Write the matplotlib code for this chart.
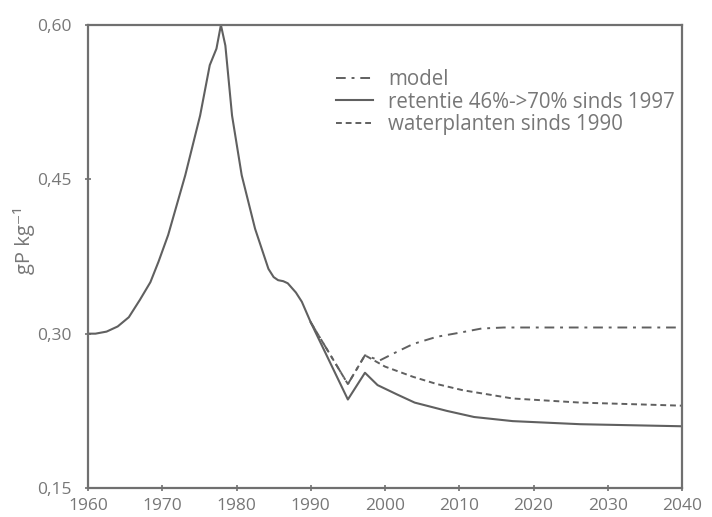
import matplotlib.pyplot as plt
from matplotlib.ticker import FuncFormatter

# values (gP per kg)
jaar_basis = [1960, 1961, 1962.5, 1964, 1965.5, 1967, 1968.4, 1969.5, 1970.8,
              1973.1, 1975.1, 1976.4, 1977.3, 1977.9, 1978.5, 1979.4, 1980.7,
              1982.5, 1984.3, 1985.0, 1985.6, 1986.3, 1986.9, 1988.0, 1988.8,
              1990]
waarde_basis = [0.300, 0.300, 0.302, 0.307, 0.316, 0.333, 0.350, 0.370, 0.396,
                0.454, 0.512, 0.561, 0.577, 0.600, 0.580, 0.512, 0.454,
                0.402, 0.363, 0.355, 0.352, 0.351, 0.349, 0.340, 0.331,
                0.311]

jaar_retentie = [1990, 1995, 1997.3, 1999, 2001.6, 2004, 2008.3, 2012, 2017.2,
                 2026.3, 2040]
waarde_retentie = [0.311, 0.236, 0.262, 0.250, 0.241, 0.233, 0.225, 0.219,
                   0.215, 0.212, 0.210]

jaar_model = [1990, 1995, 1997.3, 1999.3, 2001.5, 2003.8, 2007, 2010.1, 2013,
              2016, 2040]
waarde_model = [0.311, 0.251, 0.279, 0.274, 0.282, 0.290, 0.297, 0.301, 0.305,
                0.306, 0.306]

jaar_planten = [1990, 1995, 1997.3, 2000, 2003.8, 2007, 2010.5, 2017.2, 2026.3,
                2040]
waarde_planten = [0.311, 0.251, 0.279, 0.268, 0.258, 0.251, 0.245, 0.237,
                  0.233, 0.230]

lijn = '#606060'
as_kleur = '#707070'
tekst = '#777777'

plt.rcParams['font.family'] = ['Open Sans', 'DejaVu Sans']

fig = plt.figure(figsize=(7.12, 5.17), dpi=100)
ax = fig.add_axes([88 / 712, 1 - 488 / 517, 594 / 712, 463 / 517])

ax.plot(jaar_basis, waarde_basis, color=lijn, lw=1.5, solid_joinstyle='round')
ax.plot(jaar_model, waarde_model, color=lijn, lw=1.4, dashes=(5, 3, 1.5, 3),
        label='model')
ax.plot(jaar_retentie, waarde_retentie, color=lijn, lw=1.5,
        solid_joinstyle='round', label='retentie 46%->70% sinds 1997')
ax.plot(jaar_planten, waarde_planten, color=lijn, lw=1.4, dashes=(3, 2),
        label='waterplanten sinds 1990')

ax.set_xlim(1960, 2040)
ax.set_ylim(0.15, 0.60)
ax.set_xticks(range(1960, 2041, 10))
ax.set_yticks([0.15, 0.30, 0.45, 0.60])
ax.yaxis.set_major_formatter(FuncFormatter(lambda v, p: f'{v:.2f}'.replace('.', ',')))
ax.tick_params(direction='inout', length=5, width=1.2, color=as_kleur,
               labelcolor=tekst, labelsize=12.5)
ax.tick_params(axis='y', pad=9)
ax.tick_params(axis='x', pad=5)
for s in ax.spines.values():
    s.set_color(as_kleur)
    s.set_linewidth(1.6)

ax.set_ylabel('gP kg\u207b\u00b9', color=tekst, fontsize=14.5)
ax.yaxis.set_label_coords(-0.089, 0.536)

leg = ax.legend(loc='upper left', bbox_to_anchor=(0.4175, 0.905), frameon=False,
                fontsize=14.8, handlelength=1.8, handletextpad=0.72,
                labelspacing=0.08, borderaxespad=0, borderpad=0)
for t in leg.get_texts():
    t.set_color(tekst)

fig.savefig('out.png', dpi=100)
